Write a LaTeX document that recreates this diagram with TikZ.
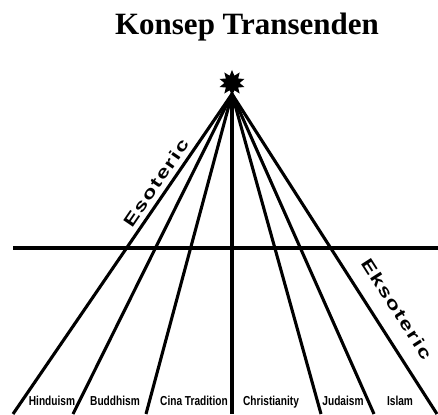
\documentclass[tikz,border=0pt]{standalone}
\usepackage{fontspec}
\setmainfont{Liberation Serif}
\newfontfamily\arialfont{Liberation Sans}
\newfontfamily\widefont[LetterSpace=7]{Liberation Sans}
\usetikzlibrary{shapes.geometric}

\begin{document}
\begin{tikzpicture}[
  x=1pt, y=-1pt,
  every node/.style={inner sep=0pt},
  ray/.style={line width=3.1pt},
  sideword/.style={font=\widefont\fontsize{17}{17}\selectfont\bfseries, sloped, above=5pt},
  faith/.style={font=\arialfont\fontsize{13}{13}\selectfont\bfseries, anchor=base},
  summit/.style={star, star points=10, star point ratio=1.7, fill=black, minimum size=26pt}
]
\useasboundingbox (0,0) rectangle (438,414);

% TITLE
\node[font=\bfseries\fontsize{31}{31}\selectfont, anchor=base] (title) at (247,35) {Konsep Transenden};

% SUMMIT
\coordinate (apex) at (232,94);
\node[summit] (top) at (232,83) {};

% BASE POINTS
\coordinate (b1) at (13,414);
\coordinate (b2) at (73,414);
\coordinate (b3) at (146,414);
\coordinate (b4) at (232,414);
\coordinate (b5) at (321,414);
\coordinate (b6) at (374,414);
\coordinate (b7) at (437,414);

% RAYS
\draw[ray] (b1) -- (apex) node[sideword, pos=0.70] (eso) {\scalebox{1.35}[1]{Esoteric}};
\draw[ray] (apex) -- (b2);
\draw[ray] (apex) -- (b3);
\draw[ray] (apex) -- (b4);
\draw[ray] (apex) -- (b5);
\draw[ray] (apex) -- (b6);
\draw[ray] (apex) -- (b7) node[sideword, pos=0.71, above=10pt] (eks) {\scalebox{1.35}[1]{Eksoteric}};

% DIVIDER
\coordinate (hl) at (13,248);
\coordinate (hr) at (438,248);
\draw[ray] (hl) -- (hr);

% FAITHS
\node[faith] (hin) at (52,405)  {\scalebox{0.78}[1]{Hinduism}};
\node[faith] (bud) at (115,405) {\scalebox{0.78}[1]{Buddhism}};
\node[faith] (cin) at (194,405) {\scalebox{0.78}[1]{Cina Tradition}};
\node[faith] (chr) at (271,405) {\scalebox{0.78}[1]{Christianity}};
\node[faith] (jud) at (343,405) {\scalebox{0.78}[1]{Judaism}};
\node[faith] (isl) at (400,405) {\scalebox{0.78}[1]{Islam}};
\end{tikzpicture}
\end{document}
